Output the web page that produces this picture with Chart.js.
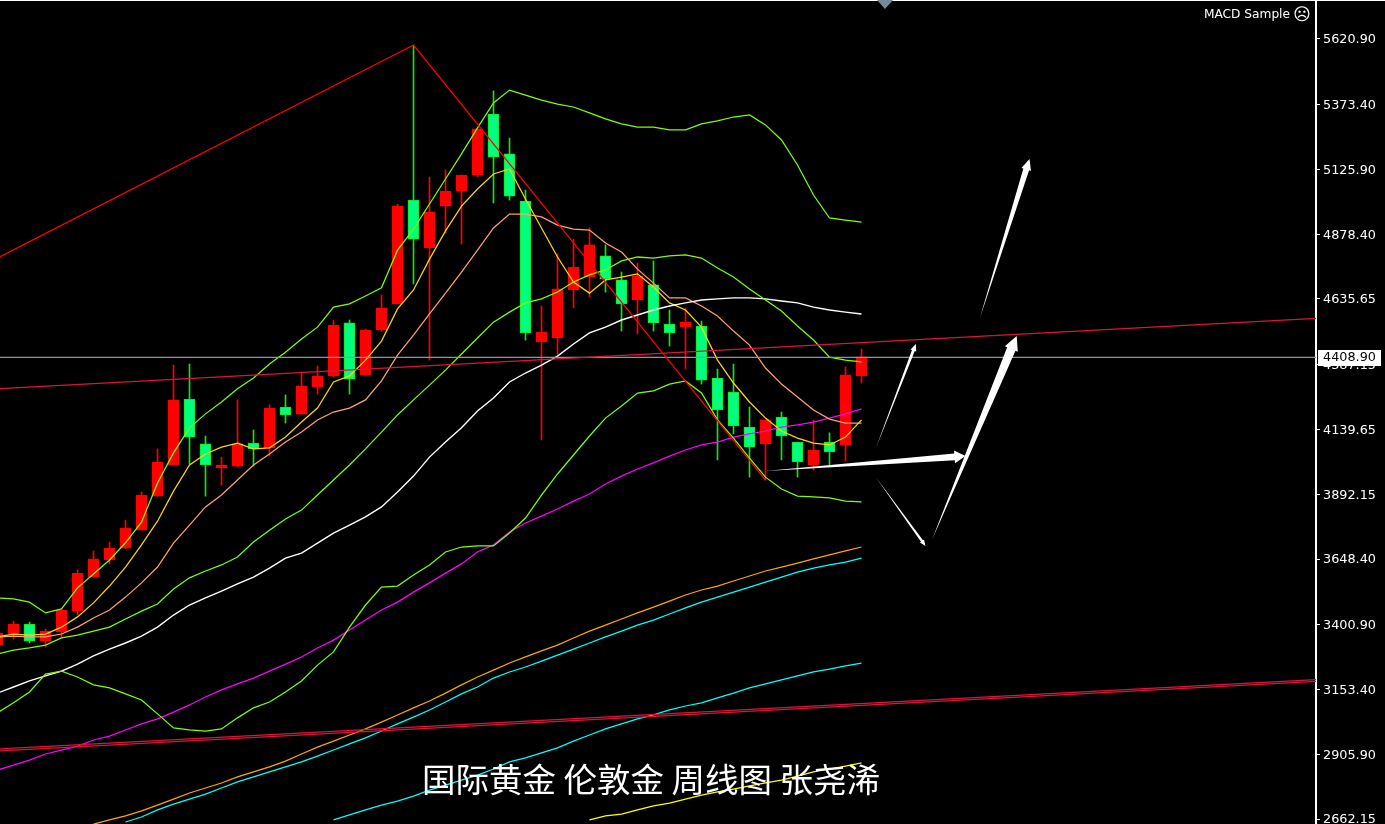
<!DOCTYPE html>
<html lang="zh">
<head>
    <meta charset="UTF-8">
    <title>国际黄金 伦敦金 周线图</title>
    <style>
        html, body { margin: 0; padding: 0; background: #000; overflow: hidden; }
        canvas { display: block; }
    </style>
</head>
<body>
    <canvas id="chartCanvas" width="1385" height="824"></canvas>
    <script src="https://cdn.jsdelivr.net/npm/chart.js"></script>
    <script>
        // weekly candles, one entry per bar
        const opens = [3322,3364,3402,3337,3372,3451,3580,3645,3690,3758,3887,4005,4255,4085,3994,4001,4088,4070,4225,4198,4301,4343,4544,4346,4517,4616,5010,4828,4987,5044,5105,5336,5185,5006,4472,4487,4669,4718,4798,4707,4631,4688,4540,4529,4532,4335,4282,4149,4085,4187,4092,4005,4092,4081,4343];
        const highs = [3375,3413,3409,3383,3455,3607,3679,3713,3796,3903,4066,4384,4388,4115,4035,4252,4138,4233,4271,4358,4381,4555,4555,4521,4650,4995,5598,5097,5124,5105,5280,5424,5245,5048,4608,4805,4862,4904,4840,4737,4771,4779,4593,4601,4551,4369,4388,4225,4176,4206,4092,4176,4127,4377,4445];
        const lows = [3311,3345,3330,3315,3353,3436,3580,3630,3687,3758,3887,4005,4009,3887,3929,3998,4001,4039,4164,4198,4274,4339,4274,4346,4513,4616,4692,4403,4885,4843,5097,4999,5010,4479,4100,4426,4601,4642,4661,4513,4502,4513,4456,4369,4312,4024,4123,3959,3948,4024,3959,3986,4005,4020,4316];
        const closes = [3368,3402,3337,3375,3455,3595,3649,3690,3766,3891,4016,4252,4111,4005,4005,4085,4066,4221,4195,4305,4343,4536,4331,4517,4601,4988,4862,4965,5044,5105,5280,5173,5025,4506,4510,4673,4756,4840,4711,4616,4722,4544,4506,4548,4327,4214,4153,4073,4176,4115,4017,4062,4055,4347,4415];

        // moving averages and bands
        const bandUpper = [3501,3497,3485,3444,3459,3539,3592,3645,3710,3788,3937,4051,4146,4199,4244,4294,4335,4388,4433,4483,4528,4604,4616,4646,4677,4820,4900,4995,5090,5185,5284,5378,5427,5408,5389,5374,5363,5341,5318,5299,5287,5287,5276,5276,5299,5310,5325,5333,5295,5238,5143,5029,4942,4934,4926];
        const bandMiddle = [3288,3303,3311,3322,3349,3360,3375,3390,3421,3451,3478,3535,3577,3603,3626,3656,3713,3758,3800,3834,3891,3948,4005,4066,4130,4195,4252,4308,4365,4426,4487,4547,4585,4620,4635,4661,4699,4726,4745,4779,4794,4790,4798,4802,4790,4752,4718,4673,4631,4589,4532,4479,4414,4403,4396];
        const bandLower = [3065,3103,3144,3212,3223,3201,3171,3160,3137,3114,3061,3008,3000,2996,3004,3046,3084,3106,3144,3186,3246,3296,3390,3474,3542,3546,3588,3626,3675,3694,3698,3698,3747,3804,3891,3971,4043,4115,4183,4229,4278,4286,4312,4324,4278,4176,4107,4031,3959,3914,3887,3884,3880,3868,3865];
        const maWhite = [3140,3163,3186,3205,3223,3250,3281,3307,3330,3356,3390,3436,3474,3501,3527,3554,3580,3614,3652,3671,3709,3747,3777,3808,3846,3903,3963,4035,4092,4146,4210,4259,4320,4354,4384,4418,4464,4506,4528,4555,4574,4593,4608,4620,4631,4635,4639,4639,4635,4627,4620,4604,4593,4585,4578];
        const maGold = [3353,3364,3360,3364,3390,3429,3482,3546,3618,3702,3792,3906,4005,4047,4073,4088,4066,4070,4111,4168,4221,4320,4343,4403,4475,4597,4669,4786,4893,4987,5052,5109,5128,5014,4904,4794,4699,4657,4707,4718,4730,4680,4620,4593,4528,4403,4316,4244,4183,4134,4107,4088,4081,4111,4176];
        const maSalmon = [3353,3356,3353,3353,3364,3390,3425,3455,3504,3558,3618,3709,3777,3846,3891,3948,4005,4047,4092,4130,4176,4206,4221,4252,4324,4422,4498,4578,4657,4737,4820,4904,4957,4957,4946,4915,4900,4896,4847,4813,4748,4695,4639,4639,4608,4570,4513,4460,4373,4312,4263,4214,4179,4164,4164];
        const maMagenta = [2848,2867,2886,2909,2924,2939,2962,2977,3000,3023,3042,3068,3095,3125,3152,3175,3197,3223,3250,3277,3311,3341,3379,3417,3455,3485,3523,3558,3595,3630,3675,3702,3751,3785,3811,3838,3868,3895,3933,3963,3990,4013,4039,4062,4081,4092,4111,4123,4134,4149,4157,4168,4183,4199,4218];
        // these three only come into the window part way along
        const orangeStart = 6;
        const maOrange = [2643,2659,2674,2693,2715,2738,2761,2780,2799,2822,2841,2860,2882,2909,2935,2958,2981,3004,3030,3057,3084,3110,3140,3171,3201,3227,3254,3277,3300,3322,3349,3375,3398,3421,3444,3466,3489,3512,3531,3546,3565,3584,3603,3618,3633,3649,3664,3679,3694];
        const cyanStart = 8;
        const maCyan = [2651,2670,2697,2719,2738,2757,2780,2803,2822,2841,2860,2879,2901,2924,2947,2970,2996,3023,3049,3076,3106,3137,3163,3197,3220,3239,3261,3284,3307,3330,3353,3375,3398,3417,3440,3463,3485,3504,3523,3542,3561,3580,3599,3614,3626,3637,3652];
        const cyanLongStart = 21;
        const maCyanLong = [2659,2678,2697,2715,2730,2749,2772,2791,2810,2829,2852,2879,2894,2913,2932,2958,2981,3004,3023,3042,3057,3076,3091,3103,3122,3140,3160,3175,3190,3205,3220,3231,3243,3254];
        const yellowStart = 37;
        const maYellow = [2659,2674,2681,2697,2712,2723,2738,2753,2765,2776,2788,2799,2810,2825,2841,2852,2863,2875];

        // zigzag and trend lines, [bar, price]
        const zigzag = [[0, 4790], [26, 5598], [48, 3948]];
        const trendUpper = [[0, 4294], [83, 4563]];
        const trendLowerA = [[0, 2928], [83, 3193]];
        const trendLowerB = [[0, 2920], [83, 3186]];
        const lastPriceLine = 4413;
        const lastPriceLabel = '4408.90';

        // hand drawn arrows: [from bar, from price, to bar, to price]
        const arrows = [
            [48.0, 3982, 60.5, 4039],
            [54.9, 4070, 57.4, 4464],
            [54.9, 3959, 58.0, 3698],
            [58.4, 3721, 63.7, 4494],
            [61.4, 4563, 64.5, 5166]
        ];
        const arrowShaft = [7, 3, 2.5, 9, 6];
        const arrowHead = [13, 6, 5, 14, 10];
        const arrowHeadLen = [11, 7, 6, 14, 11];

        const tickValues = [5620.90, 5373.40, 5125.90, 4878.40, 4635.65, 4387.15, 4139.65, 3892.15, 3648.40, 3400.90, 3153.40, 2905.90, 2662.15];
        const captionText = '国际黄金 伦敦金 周线图 张尧浠';
        const sampleText = 'MACD Sample';

        const RED = '#FF0000';
        const GREEN = '#00FF7F';
        const GREEN_EDGE = '#14E614';

        function isUp(i) {
            return closes[i] >= opens[i];
        }

        function series(values, start) {
            return values.map((v, i) => ({ x: i + (start || 0), y: v }));
        }

        function line(data, color, width) {
            return {
                type: 'line',
                data: data,
                borderColor: color,
                borderWidth: width || 1.25,
                pointRadius: 0,
                tension: 0,
                order: 1
            };
        }

        function pairs(list) {
            return list.map(p => ({ x: p[0], y: p[1] }));
        }

        const wicks = {
            type: 'bar',
            data: highs.map((h, i) => ({ x: i, y: [lows[i], h] })),
            backgroundColor: highs.map((h, i) => isUp(i) ? RED : GREEN_EDGE),
            barThickness: 1,
            grouped: false,
            order: 3
        };

        const bodies = {
            type: 'bar',
            data: opens.map((o, i) => ({ x: i, y: [Math.min(o, closes[i]), Math.max(o, closes[i])] })),
            backgroundColor: opens.map((o, i) => isUp(i) ? RED : GREEN),
            borderColor: opens.map((o, i) => isUp(i) ? RED : GREEN_EDGE),
            borderWidth: 1,
            borderSkipped: false,
            barThickness: 11,
            grouped: false,
            order: 2
        };

        // arrows, price box, caption and the top right label
        const extras = {
            id: 'extras',
            afterDatasetsDraw(chart) {
                const ctx = chart.ctx;
                const xs = chart.scales.x;
                const ys = chart.scales.y;
                ctx.save();

                ctx.fillStyle = '#fff';
                arrows.forEach((a, n) => {
                    const x1 = xs.getPixelForValue(a[0]);
                    const y1 = ys.getPixelForValue(a[1]);
                    const x2 = xs.getPixelForValue(a[2]);
                    const y2 = ys.getPixelForValue(a[3]);
                    const len = Math.hypot(x2 - x1, y2 - y1);
                    const ux = (x2 - x1) / len;
                    const uy = (y2 - y1) / len;
                    const bx = x2 - ux * arrowHeadLen[n];
                    const by = y2 - uy * arrowHeadLen[n];
                    const s = arrowShaft[n] / 2;
                    const h = arrowHead[n] / 2;
                    ctx.beginPath();
                    ctx.moveTo(x1, y1);
                    ctx.lineTo(bx - uy * s, by + ux * s);
                    ctx.lineTo(bx - uy * h, by + ux * h);
                    ctx.lineTo(x2, y2);
                    ctx.lineTo(bx + uy * h, by - ux * h);
                    ctx.lineTo(bx + uy * s, by - ux * s);
                    ctx.closePath();
                    ctx.fill();
                });

                ctx.font = '33.5px "Noto Sans CJK SC"';
                ctx.textAlign = 'left';
                ctx.textBaseline = 'middle';
                ctx.fillStyle = '#fff';
                ctx.fillText(captionText, 422, 779);

                ctx.restore();
            },
            afterDraw(chart) {
                const ctx = chart.ctx;
                const ys = chart.scales.y;
                ctx.save();

                // top frame and the small shift marker
                ctx.fillStyle = '#fff';
                ctx.fillRect(0, 0, 1385, 1);
                ctx.fillStyle = '#778899';
                ctx.beginPath();
                ctx.moveTo(877, 0);
                ctx.lineTo(893, 0);
                ctx.lineTo(885, 9);
                ctx.closePath();
                ctx.fill();

                ctx.font = '12.8px "DejaVu Sans"';
                ctx.textAlign = 'left';
                ctx.textBaseline = 'middle';

                // last price box
                const py = Math.round(ys.getPixelForValue(lastPriceLine)) + 1;
                ctx.fillStyle = '#fff';
                ctx.fillRect(1318, py - 8, 63, 16);
                ctx.fillStyle = '#000';
                ctx.fillText(lastPriceLabel, 1323, py);

                ctx.fillStyle = '#fff';
                ctx.textAlign = 'right';
                ctx.font = '12.2px "DejaVu Sans"';
                ctx.fillText(sampleText, 1290, 14.5);
                ctx.font = '17px "DejaVu Sans"';
                ctx.fillText('\u2639', 1311, 15.5);

                ctx.restore();
            }
        };

        const ctx = document.getElementById('chartCanvas').getContext('2d');
        const chart = new Chart(ctx, {
            data: {
                datasets: [
                    wicks,
                    bodies,
                    line(pairs(zigzag), RED),
                    line(pairs(trendUpper), '#DC143C'),
                    line(pairs(trendLowerA), '#DC143C'),
                    line(pairs(trendLowerB), '#DC143C'),
                    line([{ x: 0, y: lastPriceLine }, { x: 83, y: lastPriceLine }], '#8A97A5'),
                    line(series(bandUpper), '#7FFF00'),
                    line(series(bandMiddle), '#7FFF00'),
                    line(series(bandLower), '#7FFF00'),
                    line(series(maWhite), '#FFFFFF', 1.4),
                    line(series(maGold), '#FFD700'),
                    line(series(maSalmon), '#FFA07A'),
                    line(series(maMagenta), '#FF00FF'),
                    line(series(maOrange, orangeStart), '#FFA500'),
                    line(series(maCyan, cyanStart), '#00FFFF'),
                    line(series(maCyanLong, cyanLongStart), '#00FFFF'),
                    line(series(maYellow, yellowStart), '#FFFF00')
                ]
            },
            options: {
                responsive: false,
                animation: false,
                devicePixelRatio: 1,
                layout: { padding: 0, autoPadding: false },
                plugins: {
                    legend: { display: false },
                    title: { display: false },
                    tooltip: { enabled: false }
                },
                scales: {
                    x: {
                        type: 'linear',
                        offset: false,
                        min: 0.15625,
                        max: 82.40625,
                        display: false
                    },
                    y: {
                        position: 'right',
                        min: 2643.4,
                        max: 5768.8,
                        afterFit(scale) {
                            scale.width = 69;
                            scale.paddingTop = 0;
                            scale.paddingBottom = 0;
                        },
                        afterBuildTicks(scale) {
                            scale.ticks = tickValues.map(v => ({ value: v }));
                        },
                        border: { display: true, color: '#fff', width: 2 },
                        grid: {
                            drawOnChartArea: false,
                            drawTicks: true,
                            tickColor: '#fff',
                            tickLength: 4,
                            tickWidth: 1
                        },
                        ticks: {
                            color: '#fff',
                            padding: 3,
                            labelOffset: 1,
                            autoSkip: false,
                            maxRotation: 0,
                            font: { family: 'DejaVu Sans', size: 12.8 },
                            callback: v => v.toFixed(2)
                        }
                    }
                }
            },
            plugins: [extras]
        });
    </script>
</body>
</html>
